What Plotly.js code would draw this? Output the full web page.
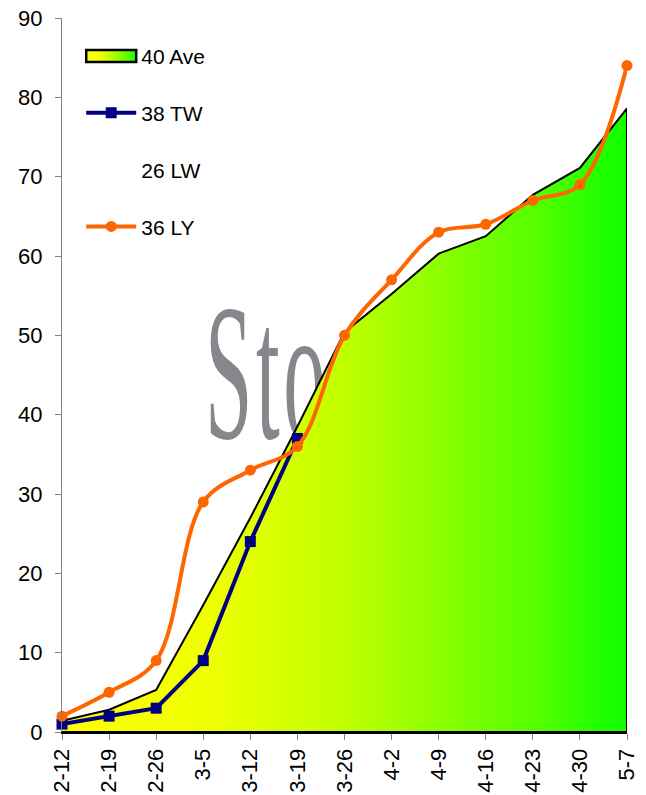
<!DOCTYPE html>
<html>
<head>
<meta charset="utf-8">
<script src="https://cdn.plot.ly/plotly-3.0.1.min.js"></script>
<style>html,body{margin:0;padding:0;background:#fff;}#chart{width:646px;height:795px;}</style>
</head>
<body>
<div id="chart"></div>
<script>
const weeks = ["2-12","2-19","2-26","3-5","3-12","3-19","3-26","4-2","4-9","4-16","4-23","4-30","5-7"];
const aveValues = [1.4, 2.8, 5.3, 16, 27, 38.5, 50.4, 55.2, 60.3, 62.5, 67.7, 71.1, 78.6];
const twValues = [1, 2, 3, 9, 24, 37];
const lwValues = [null, null, null, null, null, null, null, null, null, null, null, null, null];
const lyValues = [2, 5, 9, 29, 33, 36, 50, 57, 63, 64, 67, 69, 84];
const seriesNames = ["40 Ave", "38 TW", "26 LW", "36 LY"];
const yTicks = [0,10,20,30,40,50,60,70,80,90];

const FONT = "Liberation Sans, Arial, sans-serif";

const aveTrace = {
  x: weeks.concat([weeks[weeks.length-1], weeks[0]]),
  y: aveValues.concat([0, 0]),
  type: "scatter", mode: "lines", fill: "toself",
  name: seriesNames[0], legendgroup: "a",
  line: {color: "#000000", width: 2},
  fillgradient: {type: "horizontal", colorscale: [
    [0, "#ffff00"], [0.27, "#eeff00"], [0.5, "#c0ff00"], [0.68, "#88ff00"], [0.84, "#55ff00"], [0.97, "#1aff00"], [1, "#10ff00"]
  ]},
  hoverinfo: "skip"
};
const twTrace = {
  x: weeks.slice(0, twValues.length), y: twValues,
  type: "scatter", mode: "lines+markers", name: seriesNames[1], legendgroup: "b",
  line: {color: "#000080", width: 4},
  marker: {symbol: "square", size: 11, color: "#000080"},
  cliponaxis: false
};
const lwTrace = {
  x: weeks, y: lwValues, type: "scatter", mode: "lines", name: seriesNames[2], legendgroup: "c",
  line: {color: "rgba(255,255,255,0)", width: 2}, showlegend: true
};
const lyTrace = {
  x: weeks, y: lyValues,
  type: "scatter", mode: "lines+markers", name: seriesNames[3], legendgroup: "d",
  line: {color: "#ff6600", width: 4, shape: "spline", smoothing: 1},
  marker: {symbol: "circle", size: 11, color: "#ff6600"},
  cliponaxis: false
};

const svg = '<svg xmlns="http://www.w3.org/2000/svg" width="300" height="150" viewBox="0 0 300 150">' +
  '<text x="0" y="138" transform="scale(0.44,1)" letter-spacing="8" font-family="Liberation Serif, Times New Roman, serif" font-size="194" fill="#85878c">Sto</text></svg>';
const svgUri = "data:image/svg+xml;charset=utf-8," + encodeURIComponent(svg);

const L = 62, R = 19, T = 18, B = 63;
const pw = 646 - L - R, ph = 795 - T - B;

const layout = {
  width: 646, height: 795,
  margin: {l: L, r: R, t: T, b: B},
  paper_bgcolor: "#ffffff",
  plot_bgcolor: "rgba(0,0,0,0)",
  font: {family: FONT, size: 21, color: "#000000"},
  showlegend: true,
  legend: {
    x: 0.034, y: 0.975, xanchor: "left", yanchor: "top",
    bgcolor: "rgba(0,0,0,0)", borderwidth: 0,
    font: {family: FONT, size: 21, color: "#000000"},
    traceorder: "grouped", tracegroupgap: 26.5, itemwidth: 50
  },
  xaxis: {
    type: "category", range: [0, weeks.length - 1],
    showgrid: false, zeroline: false,
    showline: true, linecolor: "#000000", linewidth: 2,
    ticks: "outside", ticklen: 6, tickcolor: "#808080", tickwidth: 1,
    tickangle: -90, tickfont: {family: FONT, size: 22, color: "#000000"},
    fixedrange: true
  },
  yaxis: {
    range: [0, 90], tickvals: yTicks,
    showgrid: false, zeroline: false,
    showline: true, linecolor: "#808080", linewidth: 1,
    ticks: "outside", ticklen: 6, tickcolor: "#808080", tickwidth: 1,
    ticklabelstandoff: 8,
    tickfont: {family: FONT, size: 22, color: "#000000"},
    fixedrange: true
  },
  images: [{
    source: svgUri, xref: "paper", yref: "paper",
    x: (205 - L) / pw, y: (732 - 300) / ph,
    sizex: 300 / pw, sizey: 150 / ph,
    xanchor: "left", yanchor: "top", sizing: "stretch", layer: "below"
  }]
};

Plotly.newPlot("chart", [aveTrace, twTrace, lwTrace, lyTrace], layout, {displayModeBar: false, staticPlot: true}).then(function (gd) {
  // Style the area's legend swatch as a bordered box like the original
  const items = gd.querySelectorAll(".legend .traces");
  if (items.length) {
    const first = items[0];
    const fillPath = first.querySelector(".legendfill path");
    if (fillPath) {
      fillPath.setAttribute("d", "M5,-6h50v12h-50z");
      fillPath.style.stroke = "#000000";
      fillPath.style.strokeWidth = "2.5px";
    }
    const linePaths = first.querySelectorAll(".legendlines path");
    linePaths.forEach(function (p) { p.style.display = "none"; });
  }
});
</script>
</body>
</html>
